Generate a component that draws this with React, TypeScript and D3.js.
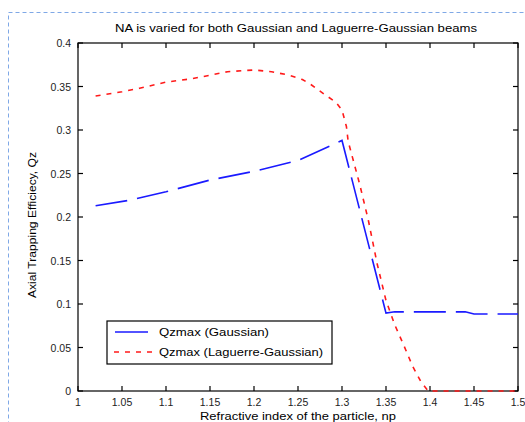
import React from "react";
import * as d3 from "d3";

const titleText = "NA is varied for both Gaussian and Laguerre-Gaussian beams";
const xLabelText = "Refractive index of the particle, np";
const yLabelText = "Axial Trapping Efficiecy, Qz";

const xTicks = [1, 1.05, 1.1, 1.15, 1.2, 1.25, 1.3, 1.35, 1.4, 1.45, 1.5];
const yTicks = [0, 0.05, 0.1, 0.15, 0.2, 0.25, 0.3, 0.35, 0.4];

const gaussX = [1.02, 1.06, 1.1, 1.15, 1.2, 1.25, 1.3, 1.35, 1.36, 1.44, 1.45, 1.5];
const gaussY = [0.213, 0.2195, 0.229, 0.2425, 0.2525, 0.265, 0.288, 0.0895, 0.091, 0.091, 0.0885, 0.0885];

const lgX = [1.02, 1.05, 1.07, 1.1, 1.13, 1.17, 1.2, 1.22, 1.24, 1.255, 1.265, 1.28, 1.293, 1.3, 1.305, 1.307, 1.32, 1.33, 1.34, 1.35, 1.36, 1.37, 1.38, 1.39, 1.398, 1.45, 1.5];
const lgY = [0.339, 0.344, 0.348, 0.355, 0.359, 0.367, 0.369, 0.367, 0.363, 0.358, 0.352, 0.341, 0.332, 0.323, 0.304, 0.287, 0.238, 0.196, 0.146, 0.104, 0.076, 0.053, 0.029, 0.01, 0, 0, 0];

const legendLabels = ["Qzmax (Gaussian)", "Qzmax (Laguerre-Gaussian)"];

export default function App() {
  const W = 525, H = 422;
  const L = 78, R = 518, T = 43, B = 391;
  const x = d3.scaleLinear().domain([1, 1.5]).range([L, R]);
  const y = d3.scaleLinear().domain([0, 0.4]).range([B, T]);
  const line = d3.line<[number, number]>().x(d => x(d[0])).y(d => y(d[1]));
  const gPath = line(gaussX.map((v, i) => [v, gaussY[i]]) as [number, number][]) || "";
  const rPath = line(lgX.map((v, i) => [v, lgY[i]]) as [number, number][]) || "";
  const font = "Liberation Sans, Arial, sans-serif";
  const tk = 5;
  return (
    <svg width={W} height={H} style={{ position: "fixed", left: 0, top: 0, background: "#fff" }} fontFamily={font}>
      <rect x={0} y={0} width={W} height={H} fill="#fff" />
      <rect x={8.5} y={12.5} width={W + 20} height={H + 20} fill="none" stroke="#7fa8e6" strokeWidth={1} strokeDasharray="4,3" />
      <text x={296} y={32} fontSize={10.5} textAnchor="middle" textLength={362} lengthAdjust="spacingAndGlyphs">{titleText}</text>
      <rect x={L} y={T} width={R - L} height={B - T} fill="none" stroke="#000" strokeWidth={1.2} />
      {xTicks.map((t, i) => (
        <g key={"x" + i}>
          <line x1={x(t)} x2={x(t)} y1={B} y2={B - tk} stroke="#000" strokeWidth={1.2} />
          <line x1={x(t)} x2={x(t)} y1={T} y2={T + tk} stroke="#000" strokeWidth={1.2} />
          <text x={x(t)} y={406} fontSize={10.5} textAnchor="middle" fill="#222">{String(t)}</text>
        </g>
      ))}
      {yTicks.map((t, i) => (
        <g key={"y" + i}>
          <line x1={L} x2={L + tk} y1={y(t)} y2={y(t)} stroke="#000" strokeWidth={1.2} />
          <line x1={R} x2={R - tk} y1={y(t)} y2={y(t)} stroke="#000" strokeWidth={1.2} />
          <text x={71} y={y(t) + 4} fontSize={10.5} textAnchor="end" fill="#222">{String(t)}</text>
        </g>
      ))}
      <text x={298} y={420} fontSize={10.5} textAnchor="middle" textLength={196} lengthAdjust="spacingAndGlyphs">{xLabelText}</text>
      <text transform="translate(36,225) rotate(-90)" fontSize={10.5} textAnchor="middle" textLength={146} lengthAdjust="spacingAndGlyphs">{yLabelText}</text>
      <path d={gPath} fill="none" stroke="#1a1aff" strokeWidth={1.6} strokeDasharray="32,10" />
      <path d={rPath} fill="none" stroke="#ff1a1a" strokeWidth={1.6} strokeDasharray="5,6" />
      <rect x={107} y={321} width={225} height={43} fill="#fff" stroke="#000" strokeWidth={1.2} />
      <line x1={115} x2={148} y1={332} y2={332} stroke="#1a1aff" strokeWidth={1.6} />
      <line x1={114} x2={152} y1={352} y2={352} stroke="#ff1a1a" strokeWidth={1.6} strokeDasharray="5,6" />
      <text x={159} y={336} fontSize={10.5} textLength={110} lengthAdjust="spacingAndGlyphs">{legendLabels[0]}</text>
      <text x={159} y={356} fontSize={10.5} textLength={164} lengthAdjust="spacingAndGlyphs">{legendLabels[1]}</text>
    </svg>
  );
}
